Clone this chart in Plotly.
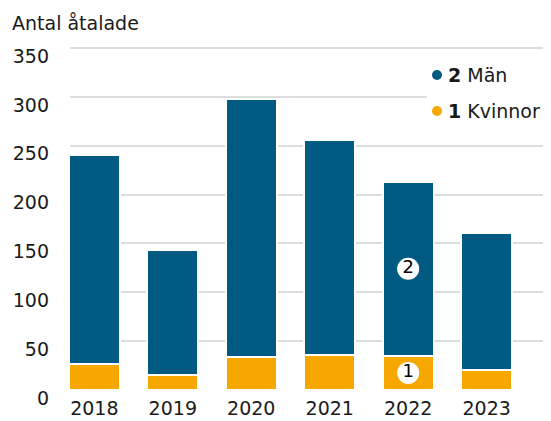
import plotly.graph_objects as go

years = ["2018", "2019", "2020", "2021", "2022", "2023"]
kvinnor = [27, 15, 34, 36, 35, 20]
man = [214, 128, 264, 220, 178, 141]
y_ticks = [0, 50, 100, 150, 200, 250, 300, 350]

blue = "#005A82"
orange = "#F6A800"
font = "DejaVu Sans"

fig = go.Figure()

fig.add_trace(go.Bar(x=years, y=kvinnor, name="Kvinnor", marker=dict(color=orange, line=dict(color="white", width=2)),
                     hoverinfo="skip"))
fig.add_trace(go.Bar(x=years, y=man, name="Män", marker=dict(color=blue, line=dict(color="white", width=2)),
                     hoverinfo="skip"))

# numbered circles on the 2022 bar
i = years.index("2022")
fig.add_trace(go.Scatter(
    x=[years[i], years[i]],
    y=[kvinnor[i] + man[i] / 2, kvinnor[i] / 2],
    mode="markers+text", text=["2", "1"], textposition="middle center",
    textfont=dict(size=18, color="black", family=font),
    marker=dict(size=22, color="white"), hoverinfo="skip"))

# legend drawn by hand: white box, round dots, labels
fig.add_shape(type="rect", xref="paper", yref="paper", x0=0.742, x1=1.0, y0=0.771, y1=0.965,
              fillcolor="white", line=dict(width=0), layer="above")
legend_items = [("<b>2</b> Män", blue, 0.9159), ("<b>1</b> Kvinnor", orange, 0.8116)]
for label, color, ly in legend_items:
    fig.add_shape(type="circle", xref="paper", yref="paper", xsizemode="pixel", ysizemode="pixel",
                  xanchor=0.763, yanchor=ly, x0=-5, x1=5, y0=-5, y1=5,
                  fillcolor=color, line=dict(width=0), layer="above")
    fig.add_annotation(text=label, xref="paper", yref="paper", x=0.7817, y=ly,
                       xanchor="left", yanchor="middle", showarrow=False,
                       font=dict(size=19, family=font, color="#1a1a1a"))

# page body has an 8px margin, so the figure is 8px smaller than the window
fig.update_layout(
    width=543, height=413,
    barmode="stack", bargap=0.35, showlegend=False,
    plot_bgcolor="white", paper_bgcolor="white",
    font=dict(family=font, size=19, color="#1a1a1a"),
    margin=dict(l=62, r=0, t=38, b=30),
    title=dict(text="Antal åtalade", x=4 / 543, xanchor="left", xref="container",
               y=1 - 15 / 413, yanchor="middle", yref="container",
               font=dict(size=19, family=font, color="#1a1a1a")),
)
fig.update_xaxes(range=[-0.31, 5.82], showgrid=False, ticks="", showline=False, zeroline=False,
                 ticklabelstandoff=4)
fig.update_yaxes(range=[-1.02, 352.05], tickvals=y_ticks, showgrid=True, gridcolor="#dddddd", gridwidth=2,
                 zeroline=False, ticks="", ticklabelshift=8, ticklabelstandoff=20)

fig.write_html("out.html")
